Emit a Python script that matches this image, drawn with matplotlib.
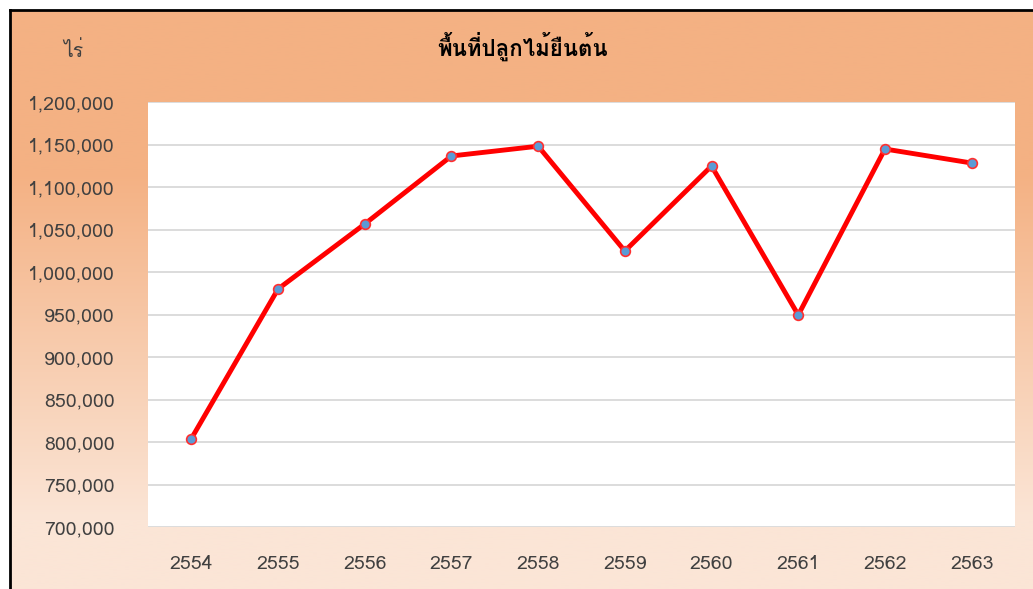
import numpy as np
import matplotlib
matplotlib.use("Agg")
import matplotlib.pyplot as plt
from matplotlib import font_manager
from matplotlib.ticker import FuncFormatter, MultipleLocator
from matplotlib.colors import LinearSegmentedColormap

years = ["2554", "2555", "2556", "2557", "2558", "2559", "2560", "2561", "2562", "2563"]
area = [804000, 980000, 1056500, 1136500, 1148000, 1024700, 1124700, 949400, 1144700, 1128200]
title = "พื้นที่ปลูกไม้ยืนต้น"
unit = "ไร่"

# find a font with Thai glyphs
thai_font = None
for f in font_manager.fontManager.ttflist:
    try:
        ft = matplotlib.ft2font.FT2Font(f.fname)
        cm = ft.get_charmap()
        if ord("พ") in cm and ord("้") in cm:
            thai_font = f.name
            break
    except Exception:
        pass
families = ([thai_font] if thai_font else []) + ["DejaVu Sans"]

W, H = 1033, 589
fig = plt.figure(figsize=(W / 100, H / 100), dpi=100)
fig.patch.set_facecolor("white")

# background panel with gradient
bx0, by0 = 10 / W, 0
bg = fig.add_axes([bx0, by0, 1 - bx0, (H - 10) / H])
top = np.array([244, 177, 131]) / 255
bot = np.array([251, 229, 214]) / 255
cmap = LinearSegmentedColormap.from_list("g", [(0, top), (0.28, top), (0.88, bot), (1, bot)])
grad = np.linspace(0, 1, 256).reshape(-1, 1)
bg.imshow(grad, aspect="auto", cmap=cmap, extent=[0, 1, 0, 1], origin="upper")
bg.set_xticks([]); bg.set_yticks([])
for s in ["right", "bottom"]:
    bg.spines[s].set_visible(False)
for s in ["left", "top"]:
    bg.spines[s].set_color("black")
    bg.spines[s].set_linewidth(2)
bg.set_zorder(0)

# plot axes
px0, px1 = 148, 1015
py0, py1 = 102, 527
ax = fig.add_axes([px0 / W, 1 - py1 / H, (px1 - px0) / W, (py1 - py0) / H])
ax.set_facecolor("white")
x = np.arange(len(years))
ax.plot(x, area, color="#FF0000", lw=3.5, marker="o", markersize=7,
        markerfacecolor="#5B9BD5", markeredgecolor="#FF3030", markeredgewidth=1.2,
        solid_joinstyle="round", zorder=3, clip_on=False)
ax.set_xlim(-0.5, len(years) - 0.5)
ax.set_ylim(700000, 1200000)
ax.yaxis.set_major_locator(MultipleLocator(50000))
ax.yaxis.set_major_formatter(FuncFormatter(lambda v, p: f"{int(v):,}"))
ax.set_xticks(x)
ax.set_xticklabels(years)
ax.grid(axis="y", color="#D9D9D9", lw=1.3)
ax.set_axisbelow(True)
for s in ax.spines.values():
    s.set_visible(False)
ax.tick_params(length=0, labelsize=14, colors="#404040")
ax.tick_params(axis="x", pad=20)
ax.tick_params(axis="y", pad=24)
for lab in ax.get_yticklabels() + ax.get_xticklabels():
    lab.set_family(families)

fig.text(523 / W, 1 - 46 / H, title, ha="center", va="center", fontsize=16,
         fontweight="bold", color="black", family=families)
fig.text(73 / W, 1 - 51 / H, unit, ha="center", va="center", fontsize=14,
         color="#404040", family=families)

fig.savefig("out.png", dpi=100)
